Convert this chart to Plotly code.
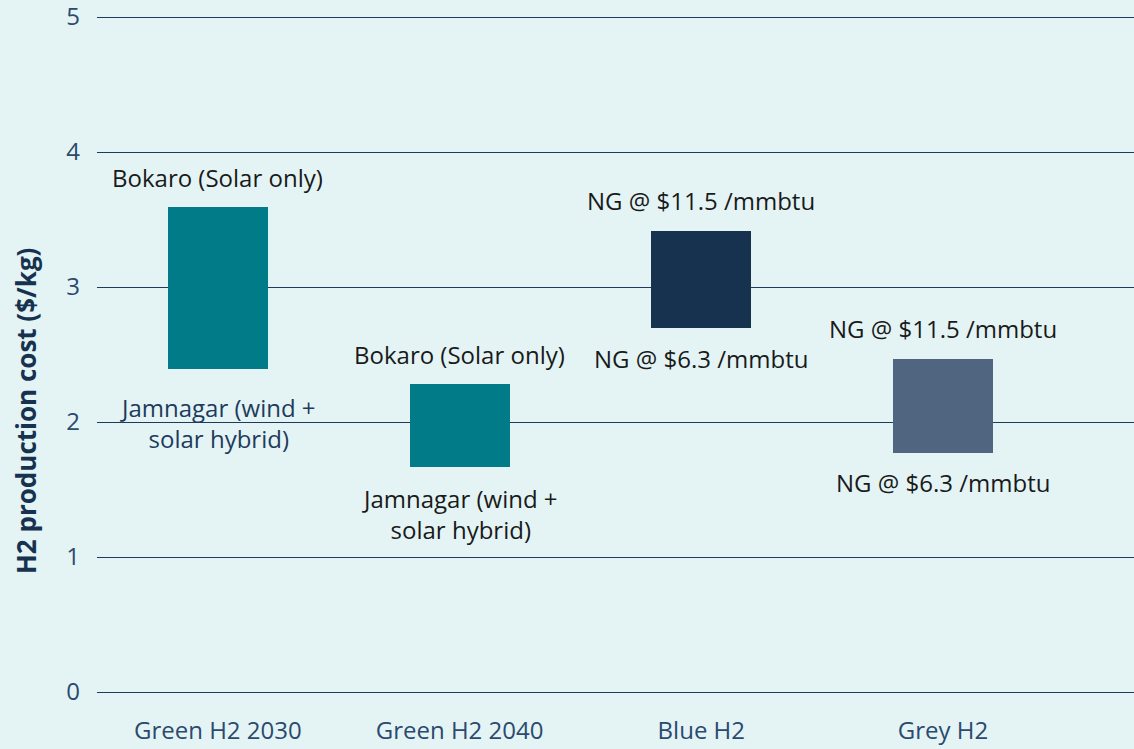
import plotly.graph_objects as go

categories = ["Green H2 2030", "Green H2 2040", "Blue H2", "Grey H2"]
low_values = [2.39, 1.67, 2.70, 1.77]
high_values = [3.59, 2.28, 3.415, 2.47]
bar_colors = ["#007B87", "#007B87", "#16324F", "#506680"]
top_labels = ["Bokaro (Solar only)", "Bokaro (Solar only)", "NG @ $11.5 /mmbtu", "NG @ $11.5 /mmbtu"]
bottom_labels = ["Jamnagar (wind +<br>solar hybrid)", "Jamnagar (wind +<br>solar hybrid)",
                 "NG @ $6.3 /mmbtu", "NG @ $6.3 /mmbtu"]
bottom_label_colors = ["#1F3B5C", "#1a1a1a", "#1a1a1a", "#1a1a1a"]
bottom_shifts = [-20, -13, -12, -11]

FONT = "Open Sans"
FS = 24

fig = go.Figure()
fig.add_trace(go.Bar(
    x=categories,
    y=[h - l for h, l in zip(high_values, low_values)],
    base=low_values,
    width=0.414,
    marker=dict(color=bar_colors, line=dict(width=0)),
    hoverinfo="skip",
    showlegend=False,
))

annotations = []
for c, h, l, tl, bl, bc, bs in zip(categories, high_values, low_values, top_labels,
                                    bottom_labels, bottom_label_colors, bottom_shifts):
    annotations.append(dict(x=c, y=h, xref="x", yref="y", text=tl, showarrow=False,
                            yanchor="middle", yshift=30,
                            font=dict(family=FONT, size=FS, color="#1a1a1a")))
    annotations.append(dict(x=c, y=l, xref="x", yref="y", text=bl, showarrow=False,
                            yanchor="top", yshift=bs,
                            font=dict(family=FONT, size=FS, color=bc)))

annotations.append(dict(x=-0.0685, y=0.4156, xref="paper", yref="paper",
                        text="<b>H2 production cost ($/kg)</b>", showarrow=False,
                        textangle=-90, xanchor="center", yanchor="middle",
                        font=dict(family=FONT, size=26, color="#16324F")))

fig.update_layout(
    width=1134, height=749,
    margin=dict(l=97, r=0, t=16, b=57, pad=0),
    paper_bgcolor="#E4F4F5",
    plot_bgcolor="#E4F4F5",
    font=dict(family=FONT, size=FS, color="#2B4A6E"),
    annotations=annotations,
    bargap=0,
)
fig.update_xaxes(range=[-0.5, 3.79], showgrid=False, showline=False, zeroline=False,
                 ticks="", ticklabelstandoff=22,
                 tickfont=dict(family=FONT, size=FS, color="#2B4A6E"))
fig.update_yaxes(range=[0, 5.0075], tickvals=[0, 1, 2, 3, 4, 5], showgrid=True,
                 gridcolor="#1F3A5C", gridwidth=1.3,
                 zeroline=True, zerolinecolor="#1F3A5C", zerolinewidth=1.3,
                 showline=False, ticks="", ticklabelstandoff=16,
                 ticklabeloverflow="allow",
                 tickfont=dict(family=FONT, size=FS, color="#2B4A6E"))

fig.write_html("out.html", config={"displayModeBar": False},
               post_script="document.body.style.margin='0';document.body.style.overflow='hidden';")
